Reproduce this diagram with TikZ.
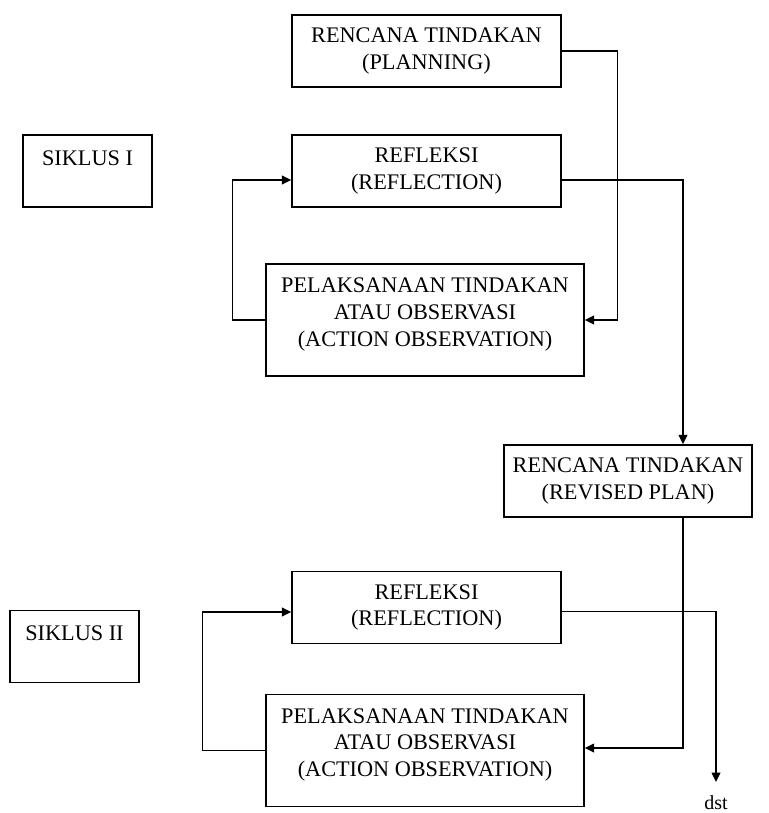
\documentclass[tikz,border=0pt]{standalone}
\usepackage{fontspec}
\setmainfont{Liberation Serif}
\usetikzlibrary{arrows.meta,calc,positioning}

\begin{document}
\begin{tikzpicture}[x=0.75pt, y=-0.75pt,
                box/.style = {draw, line width=1.1pt, align=center, inner sep=0pt,
                              font=\fontsize{16.7}{20}\selectfont},
                stepbox/.style = {box, minimum width=201.75pt, minimum height=54pt},
                actbox/.style = {box, minimum width=238.5pt, minimum height=84pt},
                cyclebox/.style = {box, minimum width=96.75pt, minimum height=54pt},
                link/.style = {line width=1.1pt, -{Triangle[length=7pt, width=6.5pt]}}
                ]
                \useasboundingbox (0,0) rectangle (768,813);
                \node[stepbox] (plan) at (426.5,51) {RENCANA TINDAKAN\\(PLANNING)};
                \node[stepbox] (refl1) at (426.5,171) {REFLEKSI\\(REFLECTION)};
                \node[actbox] (pelak1) at (425,320)
                    {PELAKSANAAN TINDAKAN\\ATAU OBSERVASI\\(ACTION OBSERVATION)\\[-8pt]\mbox{}};
                \node[cyclebox] (sik1) at (87.5,171) {SIKLUS I\\\mbox{}};
                \node[stepbox, minimum width=186pt] (rev) at (628,481) {RENCANA TINDAKAN\\(REVISED PLAN)};
                \node[stepbox] (refl2) at (426.5,607.5) {REFLEKSI\\(REFLECTION)};
                \node[actbox] (pelak2) at (425,750.5)
                    {PELAKSANAAN TINDAKAN\\ATAU OBSERVASI\\(ACTION OBSERVATION)\\[-8pt]\mbox{}};
                \node[cyclebox] (sik2) at (74.5,646.5) {SIKLUS II\\\mbox{}};
                \node[font=\fontsize{15}{18}\selectfont, anchor=north, inner sep=10pt] (dst) at (716,782) {dst};

                \draw[link] (plan.east) -- ++(56,0) |- (pelak1.east);
                \draw[link] (pelak1.west) -- ++(-33,0) |- ($(refl1.west)+(0,9)$);
                \draw[link] ($(refl1.east)+(0,9)$) -| ($(rev.north)+(55,0)$);
                \draw[link] ($(rev.south)+(55,0)$) |- ($(pelak2.east)+(0,-2.5)$);
                \draw[link] (pelak2.west) -- ++(-63,0) |- ($(refl2.west)+(0,4.5)$);
                \draw[link] ($(refl2.east)+(0,4)$) -| (dst.north);
            \end{tikzpicture}
\end{document}
